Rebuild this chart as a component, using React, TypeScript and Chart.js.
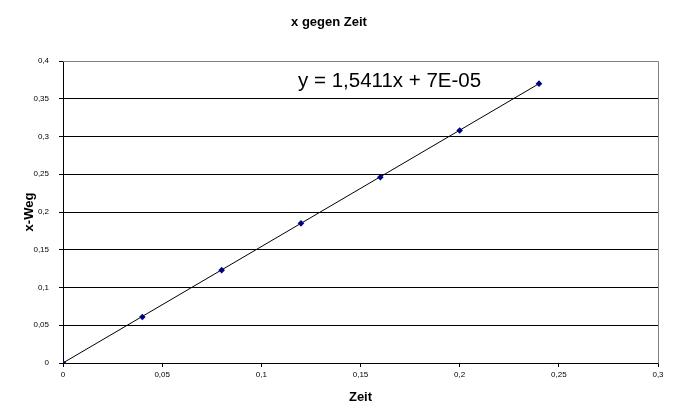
import React, { useEffect, useRef } from "react";
import { Chart, registerables } from "chart.js";

Chart.register(...registerables);

const timeValues = [0, 0.04, 0.08, 0.12, 0.16, 0.2, 0.24];
const xWegValues = [0, 0.061, 0.123, 0.185, 0.246, 0.308, 0.37];
const trendX = [0, 0.24];
const trendY = [0.00007, 0.36993];
const equationText = "y = 1,5411x + 7E-05";
const equationPos = { x: 0.1185, y: 0.3735 };

const FONT = "'Liberation Sans', Arial, sans-serif";

const fmt = (v: number) => String(Math.round(v * 100) / 100).replace(".", ",");

const borderPlugin = {
  id: "plotBorder",
  beforeDatasetsDraw(chart: any) {
    const { ctx, chartArea } = chart;
    ctx.save();
    ctx.strokeStyle = "#808080";
    ctx.lineWidth = 1;
    ctx.beginPath();
    const t = Math.round(chartArea.top) + 0.5;
    const r = Math.round(chartArea.right) + 0.5;
    ctx.moveTo(Math.round(chartArea.left), t);
    ctx.lineTo(r, t);
    ctx.lineTo(r, Math.round(chartArea.bottom) + 0.5);
    ctx.stroke();
    ctx.restore();
  },
};

const equationPlugin = {
  id: "equation",
  afterDatasetsDraw(chart: any) {
    const { ctx, scales } = chart;
    const px = scales.x.getPixelForValue(equationPos.x);
    const py = scales.y.getPixelForValue(equationPos.y);
    ctx.save();
    ctx.font = `20.5px ${FONT}`;
    ctx.fillStyle = "#000";
    ctx.textAlign = "left";
    ctx.textBaseline = "middle";
    ctx.fillText(equationText, px, py);
    ctx.restore();
  },
};

export default function App() {
  const ref = useRef<HTMLCanvasElement>(null);

  useEffect(() => {
    document.body.style.margin = "0";
    const canvas = ref.current!;
    const chart = new Chart(canvas, {
      type: "scatter",
      data: {
        datasets: [
          {
            label: "x-Weg",
            data: timeValues.map((t, i) => ({ x: t, y: xWegValues[i] })),
            showLine: false,
            pointStyle: "rectRot",
            pointRadius: 3.3,
            pointBackgroundColor: "#000080",
            pointBorderColor: "#000080",
            borderWidth: 0,
            order: 1,
          },
          {
            label: "Trend",
            data: trendX.map((t, i) => ({ x: t, y: trendY[i] })),
            showLine: true,
            borderColor: "#000",
            borderWidth: 1,
            pointRadius: 0,
            order: 2,
          },
        ],
      },
      plugins: [borderPlugin, equationPlugin],
      options: {
        animation: false,
        responsive: false,
        devicePixelRatio: 1,
        layout: { padding: { left: 0, right: 15, top: 0, bottom: 0 } },
        plugins: {
          legend: { display: false },
          tooltip: { enabled: false },
          title: {
            display: true,
            text: "x gegen Zeit",
            color: "#000",
            font: { family: FONT, size: 13, weight: "bold" },
            padding: { top: 15, bottom: 30.4 },
          },
        },
        scales: {
          x: {
            type: "linear",
            min: 0,
            max: 0.3,
            afterFit: (s: any) => {
              s.height = 50;
            },
            ticks: {
              stepSize: 0.05,
              color: "#000",
              font: { family: FONT, size: 8 },
              padding: 3,
              maxRotation: 0,
              callback: (v: any) => fmt(Number(v)),
            },
            grid: {
              drawOnChartArea: false,
              drawTicks: true,
              tickLength: 4,
              color: "#000",
            },
            border: { display: true, color: "#000", width: 1 },
            title: {
              display: true,
              text: "Zeit",
              color: "#000",
              font: { family: FONT, size: 13, weight: "bold" },
              padding: { top: 0, bottom: 8 },
            },
          },
          y: {
            type: "linear",
            min: 0,
            max: 0.4,
            afterFit: (s: any) => {
              s.width = 63;
            },
            ticks: {
              stepSize: 0.05,
              color: "#000",
              font: { family: FONT, size: 8 },
              padding: 10,
              callback: (v: any) => fmt(Number(v)),
            },
            grid: {
              drawTicks: true,
              tickLength: 4,
              tickColor: "#000",
              color: (c: any) =>
                c.tick && Math.abs(c.tick.value - 0.4) < 1e-6 ? "#808080" : "#000",
            },
            border: { display: true, color: "#000", width: 1 },
            title: {
              display: true,
              text: "x-Weg",
              color: "#000",
              font: { family: FONT, size: 13, weight: "bold" },
              padding: { top: 22, bottom: 0 },
            },
          },
        },
      },
    } as any);
    return () => chart.destroy();
  }, []);

  return <canvas ref={ref} width={673} height={413} style={{ display: "block" }} />;
}
